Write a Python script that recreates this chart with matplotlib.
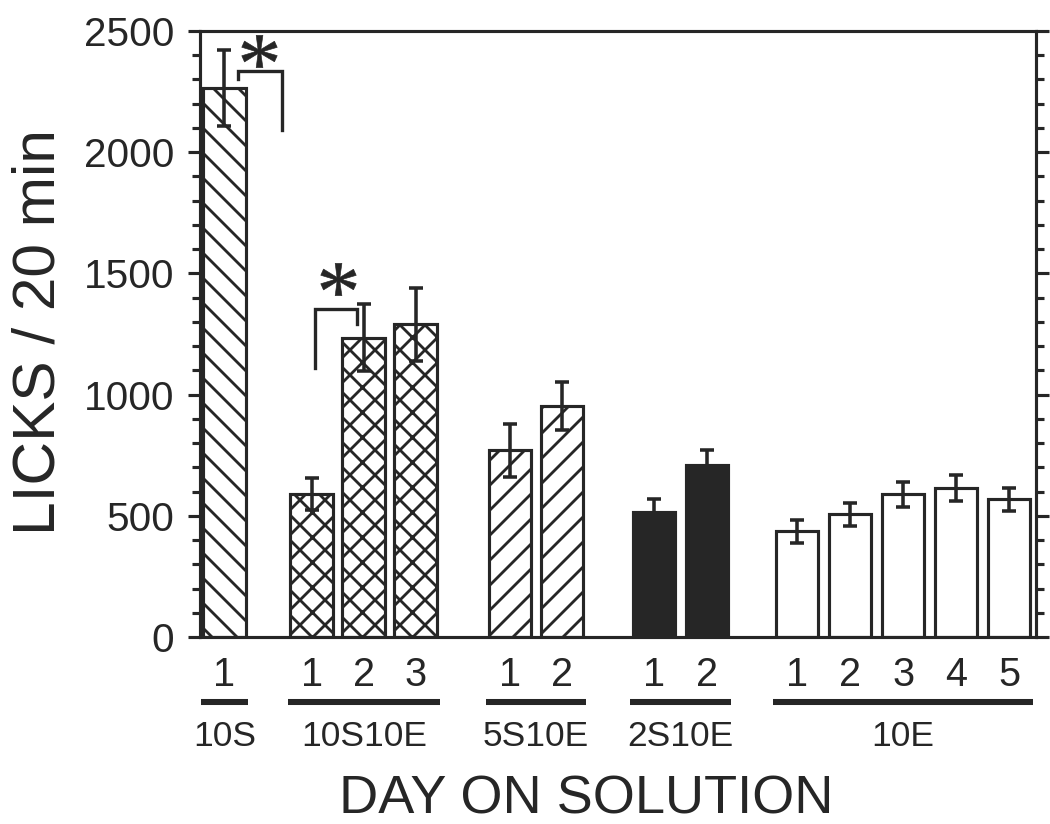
import matplotlib
matplotlib.use("Agg")
import matplotlib.pyplot as plt
from matplotlib import font_manager
from matplotlib.transforms import blended_transform_factory

# ---------------- data ----------------
groups = ["10S", "10S10E", "5S10E", "2S10E", "10E"]
group_days = [["1"], ["1", "2", "3"], ["1", "2"], ["1", "2"], ["1", "2", "3", "4", "5"]]
means_10S = [2265]
means_10S10E = [588, 1235, 1290]
means_5S10E = [770, 952]
means_2S10E = [514, 708]
means_10E = [436, 506, 588, 616, 568]
sem_10S = [157]
sem_10S10E = [66, 137, 151]
sem_5S10E = [110, 100]
sem_2S10E = [54, 65]
sem_10E = [48, 47, 51, 54, 48]
group_hatches = ["\\\\", "xx", "//", "", ""]
group_fills = ["white", "white", "white", "#262626", "white"]

# bar layout (x positions in slot units)
positions = [[0.47], [2.15, 3.15, 4.15], [5.96, 6.96], [8.73, 9.75],
             [11.48, 12.5, 13.52, 14.54, 15.56]]
bar_width = 0.82

# significance brackets: (x_left, x_right, y_top, y_left_end, y_right_end), star (x, y)
brackets = [(0.73, 1.58, 2336, 2302, 2091), (2.21, 3.02, 1355, 1111, 1293)]
stars = [(1.13, 2417), (2.65, 1475)]

means = [means_10S, means_10S10E, means_5S10E, means_2S10E, means_10E]
sems = [sem_10S, sem_10S10E, sem_5S10E, sem_2S10E, sem_10E]

# ---------------- style ----------------
ink = "#262626"
names = {f.name for f in font_manager.fontManager.ttflist}
plt.rcParams["font.family"] = ["Liberation Sans", "DejaVu Sans"]
plt.rcParams["hatch.linewidth"] = 1.35
plt.rcParams["hatch.color"] = ink
plt.rcParams["mathtext.fontset"] = "custom"
plt.rcParams["mathtext.rm"] = "Liberation Serif"
plt.rcParams["mathtext.it"] = "Liberation Serif"
narrow = "Liberation Sans Narrow" in names

DPI = 150
fig = plt.figure(figsize=(1050 / DPI, 824 / DPI), dpi=DPI)
ax = fig.add_axes([200 / 1050, (824 - 637) / 824, 836 / 1050, (637 - 31) / 824])

for g in range(len(groups)):
    ax.bar(positions[g], means[g], width=bar_width, color=group_fills[g],
           edgecolor=ink, linewidth=1.5, hatch=group_hatches[g], zorder=2)
    ax.errorbar(positions[g], means[g], yerr=sems[g], fmt="none", ecolor=ink,
                elinewidth=1.7, capsize=3.2, capthick=1.7, zorder=3)

for (xl, xr, yt, yle, yre) in brackets:
    ax.plot([xl, xl, xr, xr], [yle, yt, yt, yre], color=ink, lw=1.6,
            solid_joinstyle="miter", zorder=4)
for (sx, sy) in stars:
    ax.plot([sx], [sy], marker=r"$*$", ms=17, color=ink, mec=ink, mew=0.3, zorder=4)

ax.set_xlim(0, 836 / 52)
ax.set_ylim(0, 2500)
ax.set_yticks([0, 500, 1000, 1500, 2000, 2500])
ax.set_yticks(range(0, 2501, 100), minor=True)

all_pos = [p for grp in positions for p in grp]
all_lab = [d for grp in group_days for d in grp]
ax.set_xticks(all_pos)
ax.set_xticklabels(all_lab, fontsize=19, color=ink)
ax.tick_params(axis="x", length=0, pad=9)
ax.tick_params(axis="y", which="major", direction="out", length=6, width=1.5,
               labelsize=19.5, labelcolor=ink, color=ink, pad=6.5, right=True)
ax.tick_params(axis="y", which="minor", direction="out", length=3.8, width=1.5,
               color=ink, right=True)
for s in ax.spines.values():
    s.set_linewidth(1.5)
    s.set_color(ink)

# group underlines and labels
tr = blended_transform_factory(ax.transData, fig.transFigure)
for g in range(len(groups)):
    x0 = positions[g][0] - bar_width / 2 - 0.05
    x1 = positions[g][-1] + bar_width / 2 + 0.05
    ax.plot([x0, x1], [(824 - 702) / 824] * 2, transform=tr, color=ink,
            lw=2.9, solid_capstyle="butt", clip_on=False)
    ax.text((x0 + x1) / 2, (824 - 746) / 824, groups[g], transform=tr,
            ha="center", va="baseline", fontsize=17, color=ink)

fig.text(39 / 1050, 1 - 332 / 824, "LICKS / 20 min", rotation=90,
         ha="center", va="center", fontsize=29, color=ink)
if narrow:
    fig.text(586 / 1050, (824 - 814) / 824, "DAY ON SOLUTION", ha="center",
             va="baseline", fontsize=29, color=ink, family="Liberation Sans Narrow")
else:
    fig.text(586 / 1050, (824 - 814) / 824, "DAY ON SOLUTION", ha="center",
             va="baseline", fontsize=26, color=ink)

fig.savefig("out.png", dpi=DPI)
